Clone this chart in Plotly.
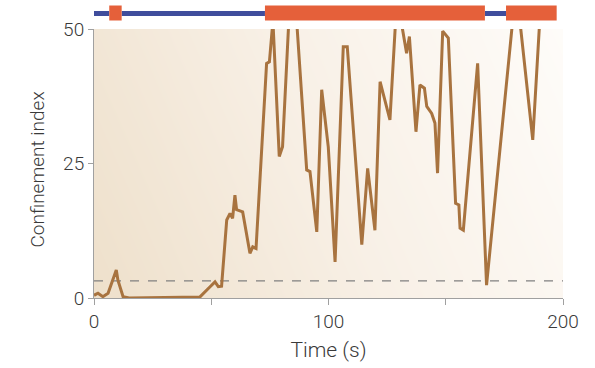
import numpy as np
import plotly.graph_objects as go

# ---- data ----
time_s = [0, 1.7, 3.8, 6.0, 9.5, 10.2, 12.4, 15.0, 45.2, 47.3, 48.5, 49.5, 51.6, 53.0, 54.4,
          56.6, 58.0, 59.1, 60.1, 60.8, 63.4, 66.5, 67.7, 69.1, 73.6, 74.8, 76.3, 79.0, 80.4,
          84.5, 90.7, 92.1, 95.0, 97.1, 99.9, 102.8, 106.3, 108.0, 114.2, 116.7, 119.8, 122.0,
          126.2, 129.2, 133.3, 134.5, 137.3, 139.0, 140.9, 141.9, 144.0, 145.4, 146.5, 148.7,
          151.1, 154.2, 155.6, 156.1, 157.5, 158.2, 163.6, 167.4, 180.0, 187.1, 190.0]
confinement = [0.5, 0.9, 0.25, 0.9, 5.2, 3.3, 0.25, 0.0, 0.2, 1.2, 1.8, 2.1, 3.0, 2.1, 2.2,
               14.5, 15.7, 14.8, 19.1, 16.4, 16.0, 8.3, 9.5, 9.2, 43.6, 43.9, 51.5, 26.3, 28.1,
               64.0, 23.8, 23.5, 12.3, 38.7, 28.1, 6.7, 46.7, 46.7, 9.9, 24.1, 12.6, 40.2,
               33.1, 56.0, 45.5, 48.6, 30.9, 39.6, 39.0, 35.6, 34.3, 32.5, 23.2, 49.6,
               48.3, 17.6, 17.3, 13.0, 12.6, 16.0, 43.6, 2.4, 58.0, 29.4, 51.0]
threshold = 3.2

state_start = [0, 6.5, 11.8, 72.9, 166.7, 175.7]
state_end = [6.5, 11.8, 72.9, 166.7, 175.7, 197.3]
state_kind = ["free", "confined", "free", "confined", "free", "confined"]

x_ticks = [0, 50, 100, 150, 200]
x_tick_labels = ["0", "", "100", "", "200"]
y_ticks = [0, 25, 50]

LINE = "#a8733f"
BLUE = "#3f4d9c"
ORANGE = "#e5603a"
FONT = "Roboto"

fig = go.Figure()

# background gradient (tan on left -> near white on right)
gx = np.linspace(0, 200, 60)
gy = np.linspace(0, 50, 20)
GX, GY = np.meshgrid(gx, gy)
Z = 0.8 * GX / 200 + 0.2 * GY / 50
fig.add_trace(go.Heatmap(
    x=gx, y=gy, z=Z, zsmooth="best", showscale=False, hoverinfo="skip",
    colorscale=[[0, "rgb(238,224,203)"], [0.5, "rgb(248,240,230)"], [1, "rgb(254,252,249)"]],
))

# threshold dashed line
fig.add_trace(go.Scatter(
    x=[0, 200], y=[threshold, threshold], mode="lines",
    line=dict(color="#808080", width=1.2, dash="dash"), hoverinfo="skip", showlegend=False,
))

fig.add_trace(go.Scatter(
    x=time_s, y=confinement, mode="lines",
    line=dict(color=LINE, width=3), showlegend=False,
))

# state bar above the plot
shapes = []
y_bar = 1 + (29 - 13.5) / 269
for s, e, k in zip(state_start, state_end, state_kind):
    if k == "free":
        shapes.append(dict(type="line", xref="x", yref="paper", x0=s, x1=e, y0=y_bar, y1=y_bar,
                           line=dict(color=BLUE, width=5)))
for s, e, k in zip(state_start, state_end, state_kind):
    if k == "confined":
        shapes.append(dict(type="rect", xref="x", yref="paper", x0=s, x1=e,
                           y0=1 + (29 - 20.5) / 269, y1=1 + (29 - 5.5) / 269,
                           fillcolor=ORANGE, line=dict(width=0)))

fig.update_layout(
    width=595, height=368,
    margin=dict(l=94, r=32, t=29, b=70),
    paper_bgcolor="white", plot_bgcolor="white",
    shapes=shapes,
    font=dict(family=FONT, size=19, color="#3a3a3a", weight=300),
    xaxis=dict(range=[0, 200], tickvals=x_ticks, ticktext=x_tick_labels,
               showgrid=False, zeroline=False, showline=True, linecolor="#a0a0a0", linewidth=1,
               ticks="outside", ticklen=6, tickcolor="#a0a0a0",
               title=dict(text="Time (s)", font=dict(size=21, weight=300), standoff=10)),
    yaxis=dict(range=[0, 50], tickvals=y_ticks,
               showgrid=False, zeroline=False, showline=True, linecolor="#a0a0a0", linewidth=1,
               ticks="outside", ticklen=5, tickcolor="#a0a0a0"),
    annotations=[dict(text="Confinement index", xref="paper", yref="paper", x=0, y=0.5,
                      xanchor="center", yanchor="middle", xshift=-57, yshift=-6, textangle=-90,
                      showarrow=False, font=dict(size=19, weight=300, color="#3a3a3a"))],
)

fig.write_html("out.html")
